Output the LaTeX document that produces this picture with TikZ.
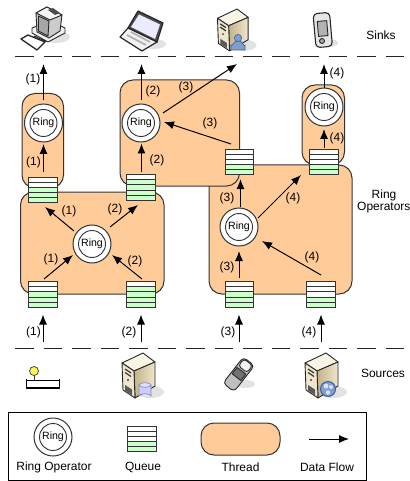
\documentclass[tikz,border=0pt]{standalone}
\usepackage{fontspec}
\setmainfont{Liberation Sans}
\usetikzlibrary{arrows.meta}
\definecolor{threadfill}{HTML}{FFCC99}
\definecolor{qgreen}{HTML}{CCFFCC}
\definecolor{lineg}{HTML}{333333}
\definecolor{beigeA}{HTML}{EFE6CE}
\definecolor{beigeB}{HTML}{C4B28A}
\definecolor{beigeC}{HTML}{F8F4E6}
\definecolor{shadowc}{HTML}{E2E2E2}
\definecolor{blueb}{HTML}{7F9FCF}
\definecolor{blued}{HTML}{3C5F9C}
\tikzset{
  threadbox/.style={draw=lineg,fill=threadfill,line width=1bp,rounded corners=13bp},
  ringouter/.style={circle,draw=lineg,fill=white,line width=1bp,minimum size=38bp,inner sep=0pt,outer sep=0pt},
  ringinner/.style={circle,draw=lineg,fill=white,line width=0.9bp,minimum size=27bp,inner sep=0pt,font=\fontsize{10.6}{12}\selectfont},
  qframe/.style={draw=lineg,line width=1bp,minimum width=28.5bp,minimum height=25.5bp,inner sep=0pt,outer sep=0pt},
  flow/.style={draw=black,line width=1bp,-{Latex[length=10bp,width=8bp]}},
  lab/.style={font=\fontsize{12}{14}\selectfont,inner sep=0pt},
  dashrule/.style={draw=black!85,line width=1bp,dash pattern=on 18.5bp off 10bp},
  iconline/.style={draw=black!85,line width=0.9bp,line join=round},
  server/.pic={
    \fill[shadowc] (7,39) ellipse (14 and 6);
    \draw[iconline,fill=beigeC] (0,0)--(-21,10)--(-9,18)--(12,9)--cycle;
    \draw[iconline,left color=beigeB,right color=beigeA] (-9,18)--(12,9)--(12,33)--(-8,45)--cycle;
    \draw[iconline,fill=beigeA] (-21,10)--(-9,18)--(-8,45)--(-20,37)--cycle;
    \draw[black!80,line width=1.2bp] (-18,16)--(-12,20) (-18,19.5)--(-12,23.5);
    \fill[black!75] (-15,27) circle (1.1);
    \fill[black!65] (-18,32)--(-11,36.5)--(-11,42)--(-18,37.5)--cycle;
  }
}
\newcommand\flowline[4]{\draw[flow] ([shift={(#2)}]#1.center) -- ([shift={(#4)}]#3.center);}
\newcommand\queue[4]{% name, x, y, fills
  \node[qframe] (#1) at (#2,#3) {};
  \foreach \c [count=\i from 0] in {#4}{
    \fill[\c] ([shift={(0,\i*5.1)}]#1.north west) rectangle ([shift={(28.5,\i*5.1+5.1)}]#1.north west);
    \draw[lineg,line width=1bp] ([shift={(0,\i*5.1)}]#1.north west) -- ([shift={(28.5,\i*5.1)}]#1.north west);
  }
  \node[qframe] at (#2,#3) {};
}
\newcommand\ringop[3]{% name x y
  \node[ringouter] (#1) at (#2,#3) {};
  \node[ringinner] at (#2,#3) {Ring};
}
\begin{document}
\begin{tikzpicture}[x=1bp,y=-1bp]
\useasboundingbox (0,0) rectangle (409,481);
% dash rules
\coordinate (tl) at (15,57); \coordinate (tr) at (404,57);
\coordinate (bl) at (15,348); \coordinate (br) at (404,348);
\draw[dashrule] (tl)--(tr);
\draw[dashrule] (bl)--(br);
% threads
\draw[threadbox] (22,93.5) rectangle (63.5,188);
\draw[threadbox] (302,85) rectangle (344.5,165);
\draw[threadbox] (20.5,192) rectangle (164,294);
\draw[threadbox] (209,165) rectangle (352,294);
\draw[threadbox] (120,80) rectangle (239.5,186);
% rings
\ringop{rA}{43.5}{123}
\ringop{rB}{141}{123}
\ringop{rC}{92}{244}
\ringop{rD}{324}{107}
\ringop{rE}{239}{227}
% queues
\queue{q1}{43}{190}{white,white,qgreen,qgreen,qgreen}
\queue{q2}{141}{187.5}{white,qgreen,qgreen,qgreen,qgreen}
\queue{q3}{239.5}{162}{white,white,white,qgreen,qgreen}
\queue{q4}{324}{162}{white,white,white,qgreen,qgreen}
\queue{q5}{43}{294.5}{white,white,qgreen,qgreen,qgreen}
\queue{q6}{141}{294.5}{white,qgreen,qgreen,qgreen,qgreen}
\queue{q7}{239.5}{294.5}{white,white,qgreen,qgreen,qgreen}
\queue{q8}{321}{294.5}{white,white,white,qgreen,qgreen}
% free ends
\coordinate (k1) at (43.5,64); \coordinate (k2) at (141.5,64);
\coordinate (k3) at (237,64); \coordinate (k4) at (324,64);
\coordinate (s1) at (43,342); \coordinate (s2) at (141,342);
\coordinate (s3) at (239,342); \coordinate (s4) at (321,342);
\coordinate (e1) at (43,314.5); \coordinate (e2) at (141,314.5);
\coordinate (e3) at (239,314.5); \coordinate (e4) at (321,314.5);
% connectors
\flowline{q1}{0.5,-18}{rA}{0,21}
\draw[flow] ([shift={(0,-23)}]rA.center) -- (k1);
\flowline{q2}{0.5,-15.5}{rB}{0.5,20.5}
\draw[flow] ([shift={(0.5,-23)}]rB.center) -- (k2);
\draw[flow] ([shift={(22,-10)}]rB.center) -- (k3);
\flowline{q3}{-8.5,-18}{rB}{23,-1}
\flowline{rC}{-18,-13}{q1}{2,17}
\flowline{rC}{18,-17}{q2}{-3,17.5}
\flowline{q5}{1,-15.5}{rC}{-19,11}
\flowline{q6}{1,-15.5}{rC}{20,11}
\draw[flow] (s1)--(e1);
\draw[flow] (s2)--(e2);
\draw[flow] (s3)--(e3);
\draw[flow] (s4)--(e4);
\flowline{q7}{-0.5,-16.5}{rE}{0,24}
\flowline{q8}{0,-19.5}{rE}{23,14}
\flowline{rE}{1.5,-20}{q3}{1,17}
\flowline{rE}{19,-9}{q4}{-23,13}
\flowline{q4}{0,-14}{rD}{0,22}
\draw[flow] ([shift={(0,-19)}]rD.center) -- (k4);
% flow labels
\foreach \n/\x/\y/\t in {
 l1/33/79/(1), l2/33.5/162/(1), l3/153/91/(2), l4/186/87/(3), l5/210/123/(3), l6/157/160/(2),
 l7/69/211/(1), l8/115/209/(2), l9/51/259/(1), l10/135/261/(2), l11/33.5/332/(1), l12/129/332/(2),
 l13/228/332/(3), l14/309/332/(4), l15/227/267/(3), l16/312/257/(4), l17/293/198/(4), l18/227/198/(3),
 l19/337/138/(4), l20/337/73/(4)}{
  \node[lab] (\n) at (\x,\y) {\t};
}
% side labels
\node[lab] (tsinks) at (381,35) {Sinks};
\node[lab] (tring) at (384,195) {Ring};
\node[lab,anchor=west] (toper) at (357,208) {Operators};
\node[lab] (tsrc) at (383,373) {Sources};
% sink: computer
\fill[shadowc] (56,37) ellipse (14 and 6);
\draw[iconline,fill=black!6] (32,33)--(48,42)--(65,33)--(65,28)--(50,21)--(32,28)--cycle;
\draw[iconline,line width=1bp] (34,36)--(46,41.5);
\draw[iconline,fill=black!20] (36,13)--(47,7)--(62,15)--(60,31)--(49,38)--(37,32)--cycle;
\draw[iconline,fill=black!4] (36,13)--(47,7)--(62,15)--(50,20)--cycle;
\fill[black!70] (48,10)--(53,8)--(60,13)--(55,15)--cycle;
\draw[iconline,fill=black!35] (38.5,16)--(49,21)--(48,36)--(38.5,31)--cycle;
\draw[iconline,line width=1.3bp,fill=white] (21,39)--(28,35)--(45,42)--(37,50)--cycle;
% sink: laptop
\fill[shadowc] (154,44) ellipse (12 and 5);
\draw[black!85,line width=1.2bp,line join=round,fill=black!70] (138,11)--(163,23)--(157,42)--(128,28)--cycle;
\fill[blue!8] (139,14.5)--(160,24.5)--(155,39)--(131,27)--cycle;
\draw[iconline,line width=1.2bp,fill=black!5] (120,37)--(128,28)--(157,42)--(142,51)--cycle;
\draw[black!30,line width=1.8bp] (127,35)--(146,45) (131,32)--(150,42);
% sink: server with person
\pic[scale=0.93] at (237,9) {server};
\fill[blueb,draw=blued,line width=0.6bp] (231,50)--(231,45) to[out=-90,in=180] (238,40) to[out=0,in=-90] (245,45)--(245,50)--cycle;
\fill[blueb,draw=blued,line width=0.6bp] (238,38) circle (3.6);
% sink: PDA
\fill[shadowc] (330,43) ellipse (8 and 4);
\draw[iconline,line width=1.1bp,rounded corners=4bp,fill=black!10,rotate around={5:(323,30)}] (314.5,13) rectangle (331,47);
\draw[iconline,fill=black!30,rotate around={5:(323,30)}] (318,21) rectangle (327.5,36);
\draw[iconline,fill=black!35] (322,41) circle (2.5);
% source: sensor
\draw[black!80,line width=1bp] (34,375)--(34,380);
\draw[black!80,fill=yellow!65,line width=0.7bp] (34,371) circle (4.5);
\draw[black,line width=1bp] (26,380)--(60,380);
\draw[black,line width=2bp] (26,387.5)--(60,387.5);
\draw[black,line width=1bp] (26.5,379)--(26.5,389) (59.5,379)--(59.5,389);
% source: server with cylinder
\pic at (143,353) {server};
\draw[blued!70,fill=blue!20,line width=0.7bp] (139,385)--(139,396) arc[start angle=180,end angle=360,x radius=6,y radius=2.2]--(151,385);
\draw[blued!70,fill=blue!12,line width=0.7bp] (145,385) ellipse (6 and 2.2);
% source: phone
\fill[shadowc] (245,384) ellipse (10 and 4);
\draw[iconline,fill=black!25,rotate around={-38:(239,374)},rounded corners=4bp] (232,358) rectangle (246,391);
\draw[iconline,fill=black!6,rotate around={-38:(239,374)},rounded corners=3bp] (233.5,359) rectangle (244.5,368);
\draw[iconline,fill=black!55,rotate around={-38:(239,374)}] (233.5,370) rectangle (244.5,378);
% source: server with globe
\pic at (326,353) {server};
\draw[blued,fill=blueb,line width=1bp] (328,389) circle (7.5);
\fill[white!70!blueb] (326,386) circle (2.5) (331,387) circle (2) (328,392.5) circle (2.2);
% legend
\draw[black,line width=1bp] (8,412) rectangle (366,480);
\ringop{rL}{53}{437}
\queue{qL}{142}{439}{white,white,white,qgreen,qgreen}
\draw[threadbox] (201,423) rectangle (280,455);
\coordinate (fa) at (309,439); \coordinate (fb) at (349,439);
\draw[flow] (fa)--(fb);
\node[lab] (ll1) at (54,467) {Ring Operator};
\node[lab] (ll2) at (143,467) {Queue};
\node[lab] (ll3) at (240.5,467) {Thread};
\node[lab] (ll4) at (327,467) {Data Flow};
\end{tikzpicture}
\end{document}
